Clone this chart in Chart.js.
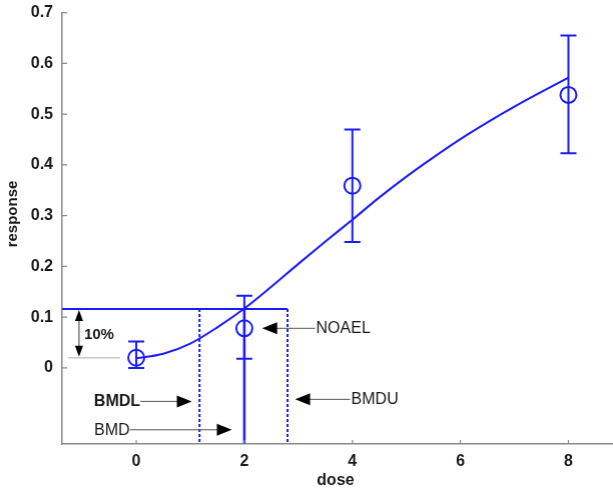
<!DOCTYPE html>
<html>
<head>
<meta charset="utf-8">
<script src="https://cdn.jsdelivr.net/npm/chart.js@4"></script>
<style>
html,body{margin:0;padding:0;background:#fff;overflow:hidden;}
#wrap{width:613px;height:494px;position:relative;}
</style>
</head>
<body>
<div id="wrap"><canvas id="c"></canvas></div>
<script>
// ---- data ----
const doses = [0, 2, 4, 8];
const means = [0.02, 0.078, 0.359, 0.538];
const lower = [0.0, 0.018, 0.248, 0.423];
const upper = [0.052, 0.142, 0.47, 0.655];

const fitDoses = [0, 0.5, 1, 1.5, 2, 2.5, 3, 3.5, 4, 4.5, 5, 5.5, 6, 6.5, 7, 7.5, 8];
const fitResp  = [0.019, 0.028, 0.048, 0.080, 0.117, 0.160, 0.205, 0.249, 0.292, 0.336, 0.377, 0.415, 0.451, 0.484, 0.515, 0.544, 0.572];

const xTicks = [0, 2, 4, 6, 8];
const yTicks = [0, 0.1, 0.2, 0.3, 0.4, 0.5, 0.6, 0.7];

const bmrLevel = 0.116;
const backgroundLevel = 0.02;
const bmdl = 1.17, bmd = 2, bmdu = 2.8;

const xMin = -1.373, xMax = 8.82, yMin = -0.15, yMax = 0.7;

// annotation arrows (data units)
const arrowLabels = ['NOAEL', 'BMDU', 'BMDL', 'BMD'];
const arrowTails  = [3.31, 3.96, 0.074, -0.12];
const arrowTips   = [2.33, 2.94, 1.03, 1.77];
const arrowYs     = [0.078, -0.062, -0.066, -0.122];
const arrowBold   = [false, false, true, false];

const BLUE = 'rgb(28,28,250)';
const FONT = '"Liberation Sans", Arial, sans-serif';

const annot = {
  id: 'annot',
  afterDatasetsDraw(chart) {
    const ctx = chart.ctx, xs = chart.scales.x, ys = chart.scales.y, ca = chart.chartArea;
    ctx.save();
    // error bars
    ctx.strokeStyle = BLUE; ctx.lineWidth = 2;
    for (let i = 0; i < doses.length; i++) {
      const px = xs.getPixelForValue(doses[i]);
      const pl = ys.getPixelForValue(lower[i]), pu = ys.getPixelForValue(upper[i]);
      ctx.beginPath();
      ctx.moveTo(px, pl); ctx.lineTo(px, pu);
      ctx.moveTo(px - 8, pl); ctx.lineTo(px + 8, pl);
      ctx.moveTo(px - 8, pu); ctx.lineTo(px + 8, pu);
      ctx.stroke();
    }
    // inward ticks
    ctx.strokeStyle = '#8a8a8a'; ctx.lineWidth = 1.2;
    ctx.beginPath();
    yTicks.forEach(v => { const p = ys.getPixelForValue(v); ctx.moveTo(ca.left, p); ctx.lineTo(ca.left + 5, p); });
    xTicks.forEach(v => { const p = xs.getPixelForValue(v); ctx.moveTo(p, ca.bottom); ctx.lineTo(p, ca.bottom - 4); });
    ctx.stroke();

    function arrowHead(tx, ty, dir, horiz) {
      ctx.beginPath();
      if (horiz) {
        ctx.moveTo(tx, ty); ctx.lineTo(tx - dir * 15, ty - 6); ctx.lineTo(tx - dir * 15, ty + 6);
      } else {
        ctx.moveTo(tx, ty); ctx.lineTo(tx - 4, ty - dir * 11); ctx.lineTo(tx + 4, ty - dir * 11);
      }
      ctx.closePath(); ctx.fill();
    }
    // horizontal arrows with labels
    ctx.lineWidth = 1;
    ctx.textBaseline = 'middle';
    for (let i = 0; i < arrowLabels.length; i++) {
      const tail = xs.getPixelForValue(arrowTails[i]);
      const tip = xs.getPixelForValue(arrowTips[i]);
      const py = ys.getPixelForValue(arrowYs[i]);
      const dir = tip > tail ? 1 : -1;
      ctx.strokeStyle = '#555';
      ctx.beginPath(); ctx.moveTo(tail, py); ctx.lineTo(tip - dir * 10, py); ctx.stroke();
      ctx.fillStyle = '#000';
      arrowHead(tip, py, dir, true);
      ctx.fillStyle = '#1a1a1a';
      ctx.font = (arrowBold[i] ? 'bold ' : '') + '16px ' + FONT;
      if (dir > 0) { ctx.textAlign = 'right'; ctx.fillText(arrowLabels[i], tail, py + 0.5); }
      else { ctx.textAlign = 'left'; ctx.fillText(arrowLabels[i], tail + 1, py + 0.5); }
    }
    // 10% double arrow
    const ax = xs.getPixelForValue(-1.06);
    const yTop = ys.getPixelForValue(bmrLevel), yBot = ys.getPixelForValue(backgroundLevel);
    ctx.strokeStyle = '#333'; ctx.lineWidth = 1;
    ctx.beginPath(); ctx.moveTo(ax, yTop + 10); ctx.lineTo(ax, yBot - 10); ctx.stroke();
    ctx.fillStyle = '#000';
    arrowHead(ax, yTop + 1, -1, false);
    arrowHead(ax, yBot - 1, 1, false);
    ctx.fillStyle = '#1a1a1a';
    ctx.font = 'bold 15px ' + FONT; ctx.textAlign = 'left';
    ctx.fillText('10%', ax + 5, ys.getPixelForValue(0.065));

    // axis titles
    ctx.font = 'bold 16px ' + FONT; ctx.textAlign = 'center'; ctx.textBaseline = 'middle';
    ctx.fillText('dose', 335, 481);
    ctx.save();
    ctx.translate(13, 214); ctx.rotate(-Math.PI / 2);
    ctx.font = 'bold 15px ' + FONT;
    ctx.fillText('response', 0, 0);
    ctx.restore();
    ctx.restore();
  }
};

function zeroPad(s) { s.paddingTop = 0; s.paddingBottom = 0; s.paddingLeft = 0; s.paddingRight = 0; }

const chart = new Chart(document.getElementById('c'), {
  type: 'scatter',
  data: {
    datasets: [
      { type: 'line', data: fitDoses.map((d, i) => ({x: d, y: fitResp[i]})), borderColor: BLUE, borderWidth: 2,
        pointRadius: 0, cubicInterpolationMode: 'monotone', fill: false },
      { data: doses.map((d, i) => ({x: d, y: means[i]})), borderColor: BLUE, backgroundColor: 'rgba(0,0,0,0)',
        pointRadius: 8, pointBorderWidth: 2, pointStyle: 'circle', showLine: false },
      { type: 'line', data: [{x: xMin, y: bmrLevel}, {x: bmdu, y: bmrLevel}], borderColor: BLUE, borderWidth: 2, pointRadius: 0 },
      { type: 'line', data: [{x: bmd, y: bmrLevel}, {x: bmd, y: yMin}], borderColor: BLUE, borderWidth: 2.5, pointRadius: 0 },
      { type: 'line', data: [{x: bmdl, y: bmrLevel}, {x: bmdl, y: yMin}], borderColor: BLUE, borderWidth: 2, borderDash: [3, 2], pointRadius: 0 },
      { type: 'line', data: [{x: bmdu, y: bmrLevel}, {x: bmdu, y: yMin}], borderColor: BLUE, borderWidth: 2, borderDash: [3, 2], pointRadius: 0 },
      { type: 'line', data: [{x: -1.26, y: backgroundLevel}, {x: -0.30, y: backgroundLevel}], borderColor: '#c8c8c8', borderWidth: 1.5, pointRadius: 0 }
    ]
  },
  options: {
    responsive: true, maintainAspectRatio: false, animation: false,
    layout: { padding: { top: 12.7, right: 1.3, left: 0, bottom: 0 } },
    plugins: { legend: { display: false }, tooltip: { enabled: false } },
    scales: {
      x: {
        type: 'linear', min: xMin, max: xMax,
        afterBuildTicks: s => { s.ticks = xTicks.map(v => ({value: v})); },
        afterFit: s => { s.height = 50; zeroPad(s); },
        grid: { drawOnChartArea: false, drawTicks: false },
        border: { display: true, color: '#8a8a8a', width: 1.5 },
        ticks: { color: '#1a1a1a', font: { family: FONT, size: 16, weight: 'bold' }, padding: 8, maxRotation: 0 }
      },
      y: {
        type: 'linear', min: yMin, max: yMax,
        afterBuildTicks: s => { s.ticks = yTicks.map(v => ({value: v})); },
        afterFit: s => { s.width = 62; zeroPad(s); },
        grid: { drawOnChartArea: false, drawTicks: false },
        border: { display: true, color: '#8a8a8a', width: 1.5 },
        ticks: { color: '#1a1a1a', font: { family: FONT, size: 16, weight: 'bold' }, padding: 9,
          callback: v => String(Math.round(v * 10) / 10) }
      }
    }
  },
  plugins: [annot]
});

// Stretch the canvas so that the plot area ends where the reference's does (x ≈ 611.7px)
(function fitRight() {
  const wrap = document.getElementById('wrap');
  let w = 613;
  for (let k = 0; k < 4; k++) {
    const delta = 611.7 - chart.chartArea.right;
    if (Math.abs(delta) < 0.3) break;
    w += delta;
    wrap.style.width = w + 'px';
    chart.resize(w, 494);
  }
})();
</script>
</body>
</html>
